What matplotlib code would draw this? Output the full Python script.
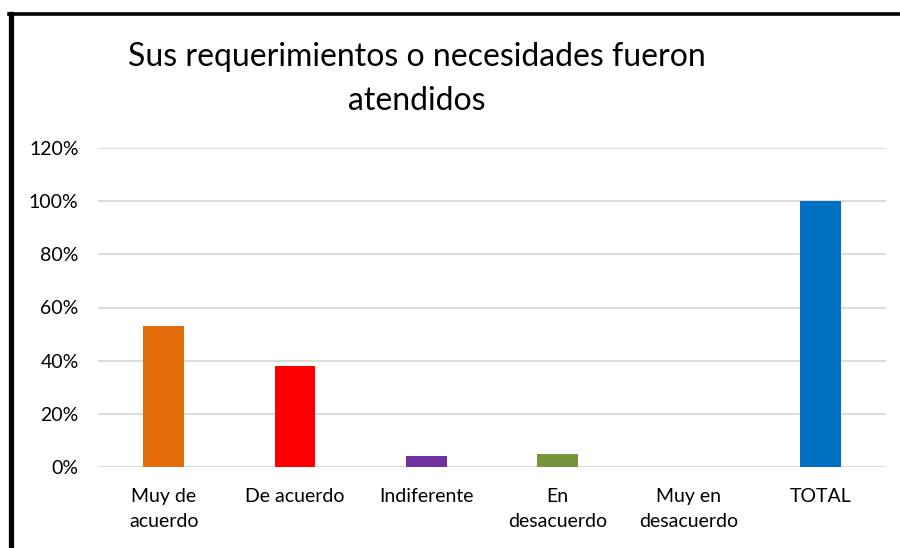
import matplotlib.pyplot as plt
from matplotlib.lines import Line2D
from matplotlib.ticker import PercentFormatter

plt.rcParams['font.family'] = ['Lato', 'DejaVu Sans']

## data
categories = ["Muy de\nacuerdo", "De acuerdo", "Indiferente", "En\ndesacuerdo",
              "Muy en\ndesacuerdo", "TOTAL"]
values = [53, 38, 4, 5, 0, 100]
colors = ["#E36C0A", "#FF0000", "#7030A0", "#77933C", "#4F81BD", "#0070C0"]
title = "Sus requerimientos o necesidades fueron\natendidos"

W, H = 900, 548
fig = plt.figure(figsize=(W / 100, H / 100), dpi=100)

ax = fig.add_axes([98 / W, 81 / H, (886 - 98) / W, (467 - 148) / H])

x = range(len(categories))
ax.bar(x, values, width=0.31, color=colors, zorder=3)

ax.set_xlim(-0.5, len(categories) - 0.5)
ax.set_ylim(0, 120)
ax.set_yticks(range(0, 121, 20))
ax.yaxis.set_major_formatter(PercentFormatter(decimals=0))
ax.set_xticks(list(x))
ax.set_xticklabels(categories, fontsize=14, color="#000000", linespacing=1.6)
ax.tick_params(axis='y', labelsize=14, length=0, pad=14)
ax.tick_params(axis='x', length=0, pad=15)

ax.grid(axis='y', color="#D9D9D9", linewidth=1.3, zorder=0)
for s in ax.spines.values():
    s.set_visible(False)

fig.text(417 / W, 1 - 79 / H, title, ha='center', va='center',
         fontsize=23, linespacing=1.6)

# frame around the chart
fig.add_artist(Line2D([10.5 / W, 10.5 / W], [0, 1 - 13.5 / H],
                      transform=fig.transFigure, color='black', linewidth=3.8))
fig.add_artist(Line2D([8.5 / W, 1], [1 - 13.5 / H, 1 - 13.5 / H],
                      transform=fig.transFigure, color='black', linewidth=2.6))

fig.savefig("out.png", dpi=100)
